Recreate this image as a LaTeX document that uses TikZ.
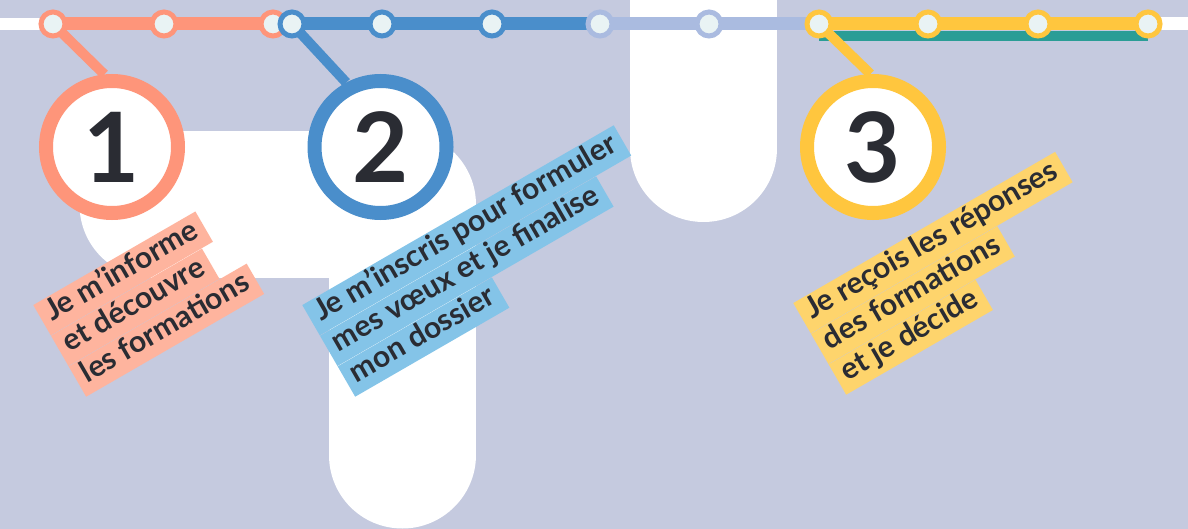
\documentclass[tikz,border=0pt]{standalone}
\usepackage{fontspec}
\setmainfont{Lato}
\usepackage{xcolor}
\definecolor{bg}{HTML}{C5CADF}
\definecolor{ink}{HTML}{2A2C33}
\definecolor{salmon}{HTML}{FE957A}
\definecolor{salmonband}{HTML}{FEB49E}
\definecolor{azure}{HTML}{4A8ECB}
\definecolor{azureband}{HTML}{84C4E8}
\definecolor{lavend}{HTML}{AABBE0}
\definecolor{sun}{HTML}{FFC63E}
\definecolor{sunband}{HTML}{FED46C}
\definecolor{lagoon}{HTML}{2A9D96}
\definecolor{stopfill}{HTML}{E9F3F4}

\begin{document}
\begin{tikzpicture}[x=1pt,y=1pt,
  road/.style={white,line width=147pt,line cap=round,line join=round},
  track/.style={line width=13pt},
  link/.style={line width=10pt},
  stop/.style={circle,draw,line width=5pt,fill=stopfill,minimum size=24pt,inner sep=0pt},
  stage/.style={circle,draw,line width=14pt,fill=white,minimum size=132pt,inner sep=0pt,
    text=ink,font=\fontsize{97}{97}\selectfont\bfseries},
  band/.style={rotate=30,anchor=north west,inner xsep=8pt,inner ysep=3pt,
    text height=21pt,text depth=8pt,text=ink,font=\fontsize{30}{33}\selectfont\bfseries}]
  \useasboundingbox (0,0) rectangle (1188,-529);
  \fill[bg] (0,0) rectangle (1188,-529);
  \clip (0,0) rectangle (1188,-529);

  % white roads behind the stages
  \draw[road] (153,-205) -- (402,-205) -- (402,-455);
  \draw[road] (703.5,20) -- (703.5,-148.5);

  % stops along the line
  \coordinate (west) at (-10,-24);
  \coordinate (s1) at (53,-24);
  \coordinate (s2) at (164,-24);
  \coordinate (s3) at (273,-24);
  \coordinate (s4) at (292,-24);
  \coordinate (s5) at (382,-24);
  \coordinate (s6) at (492,-24);
  \coordinate (s7) at (600,-24);
  \coordinate (s8) at (709,-24);
  \coordinate (s9) at (819,-24);
  \coordinate (s10) at (928,-24);
  \coordinate (s11) at (1038,-24);
  \coordinate (s12) at (1148,-24);
  \coordinate (east) at (1200,-24);

  \draw[track,white,line width=12pt] (west) -- (s1);
  \draw[track,white] (s12) -- (east);
  \draw[lagoon,line width=10pt] ([yshift=-12pt]s9) -- ([yshift=-12pt]s12);
  \draw[track,salmon] (s1) -- (s3);
  \draw[track,azure] (s4) -- (s7);
  \draw[track,lavend] (s7) -- (s9);
  \draw[track,sun] (s9) -- (s12);

  % the three stages
  \node[stage,draw=salmon] (c1) at (112,-147) {1};
  \node[stage,draw=azure] (c2) at (380.5,-147) {2};
  \node[stage,draw=sun] (c3) at (873,-147) {3};

  \draw[link,salmon] (s1) -- (c1.96);
  \draw[link,azure] (s4) -- (c2.118);
  \draw[link,sun] (s9) -- (c3.92);

  \node[stop,draw=salmon] at (s1) {};
  \node[stop,draw=salmon] at (s2) {};
  \node[stop,draw=salmon] at (s3) {};
  \node[stop,draw=azure] at (s4) {};
  \node[stop,draw=azure] at (s5) {};
  \node[stop,draw=azure] at (s6) {};
  \node[stop,draw=lavend] at (s7) {};
  \node[stop,draw=lavend] at (s8) {};
  \node[stop,draw=sun] at (s9) {};
  \node[stop,draw=sun] at (s10) {};
  \node[stop,draw=sun] at (s11) {};
  \node[stop,draw=sun] at (s12) {};

  % labels, one band per line
  \node[band,fill=salmonband] (l1a) at (33,-305) {Je m’informe};
  \node[band,fill=salmonband] (l1b) at (l1a.south west) {et découvre};
  \node[band,fill=salmonband] (l1c) at (l1b.south west) {les formations};

  \node[band,fill=azureband] (l2a) at (302,-305) {Je m’inscris pour formuler};
  \node[band,fill=azureband] (l2b) at (l2a.south west) {mes vœux et je finalise};
  \node[band,fill=azureband] (l2c) at (l2b.south west) {mon dossier};

  \node[band,fill=sunband] (l3a) at (793,-303) {Je reçois les réponses};
  \node[band,fill=sunband] (l3b) at (l3a.south west) {des formations};
  \node[band,fill=sunband] (l3c) at (l3b.south west) {et je décide};
\end{tikzpicture}
\end{document}
